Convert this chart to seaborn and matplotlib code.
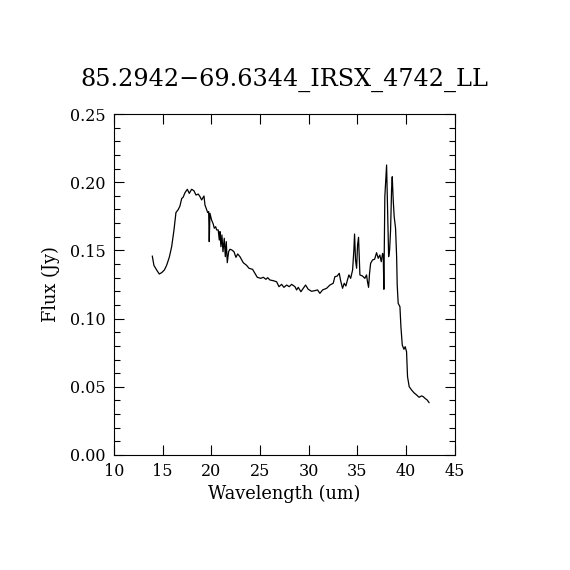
import numpy as np
import pandas as pd
import matplotlib
matplotlib.use("Agg")
import matplotlib.pyplot as plt
from matplotlib.ticker import MultipleLocator
import seaborn as sns

title = "85.2942\u221269.6344_IRSX_4742_LL"
xlabel = "Wavelength (um)"
ylabel = "Flux (Jy)"

wavelength = [13.93, 14.10, 14.38, 14.65, 14.90, 15.17, 15.40, 15.68, 15.92, 16.16,
              16.36, 16.60, 16.77, 16.95, 17.10, 17.29, 17.53, 17.73, 17.97, 18.20,
              18.42, 18.65, 18.83, 19.00, 19.24, 19.34, 19.51, 19.62, 19.72, 19.78,
              19.85, 20.02, 20.19, 20.30, 20.44, 20.54, 20.70, 20.81, 20.88, 20.98,
              21.08, 21.19, 21.32, 21.43, 21.53, 21.63, 21.77, 21.90, 22.10, 22.32,
              22.52, 22.70, 22.93, 23.27, 23.62, 23.86, 24.23, 24.47, 24.71, 25.06,
              25.33, 25.60, 25.78, 26.01, 26.35, 26.70, 26.94, 27.21, 27.45, 27.73,
              27.99, 28.24, 28.58, 28.75, 28.92, 29.19, 29.43, 29.67, 29.94, 30.29,
              30.63, 30.90, 31.14, 31.42, 31.83, 32.17, 32.51, 32.68, 32.92, 33.13,
              33.27, 33.47, 33.64, 33.81, 33.95, 34.12, 34.30, 34.50, 34.63, 34.70,
              34.80, 34.91, 35.01, 35.11, 35.18, 35.25, 35.52, 35.76, 35.93, 36.03,
              36.14, 36.24, 36.35, 36.55, 36.76, 36.96, 37.13, 37.30, 37.44, 37.58,
              37.65, 37.71, 37.81, 37.99, 38.09, 38.20, 38.30, 38.40, 38.50, 38.57,
              38.67, 38.77, 38.91, 39.02, 39.08, 39.18, 39.36, 39.46, 39.60, 39.77,
              39.90, 40.04, 40.14, 40.31, 40.55, 40.79, 41.07, 41.33, 41.58, 41.75,
              41.92, 42.16, 42.36]
flux = [0.1459, 0.1390, 0.1356, 0.1327, 0.1337, 0.1356, 0.1390, 0.1450, 0.1527, 0.1650,
        0.1777, 0.1800, 0.1825, 0.1880, 0.1890, 0.1923, 0.1948, 0.1918, 0.1948, 0.1938,
        0.1906, 0.1913, 0.1894, 0.1870, 0.1899, 0.1833, 0.1800, 0.1777, 0.1784, 0.1564,
        0.1772, 0.1723, 0.1693, 0.1662, 0.1674, 0.1650, 0.1650, 0.1576, 0.1638, 0.1527,
        0.1613, 0.1490, 0.1589, 0.1454, 0.1564, 0.1410, 0.1490, 0.1508, 0.1503, 0.1490,
        0.1449, 0.1474, 0.1454, 0.1410, 0.1390, 0.1369, 0.1361, 0.1332, 0.1303, 0.1295,
        0.1303, 0.1288, 0.1300, 0.1283, 0.1278, 0.1270, 0.1234, 0.1251, 0.1229, 0.1246,
        0.1234, 0.1251, 0.1234, 0.1210, 0.1229, 0.1197, 0.1222, 0.1246, 0.1215, 0.1200,
        0.1205, 0.1210, 0.1185, 0.1210, 0.1222, 0.1246, 0.1259, 0.1307, 0.1312, 0.1332,
        0.1278, 0.1222, 0.1259, 0.1239, 0.1278, 0.1320, 0.1295, 0.1356, 0.1503, 0.1620,
        0.1430, 0.1369, 0.1540, 0.1596, 0.1466, 0.1320, 0.1312, 0.1295, 0.1320, 0.1270,
        0.1229, 0.1332, 0.1405, 0.1430, 0.1435, 0.1483, 0.1442, 0.1466, 0.1417, 0.1478,
        0.1454, 0.1215, 0.1894, 0.2126, 0.1820, 0.1454, 0.1503, 0.1650, 0.1943, 0.2040,
        0.1870, 0.1747, 0.1662, 0.1454, 0.1246, 0.1112, 0.1087, 0.0941, 0.0806, 0.0775,
        0.0794, 0.0757, 0.0574, 0.0501, 0.0477, 0.0457, 0.0440, 0.0423, 0.0433, 0.0428,
        0.0416, 0.0403, 0.0383]

xticks = [10, 15, 20, 25, 30, 35, 40, 45]
yticks = [0.00, 0.05, 0.10, 0.15, 0.20, 0.25]

df = pd.DataFrame({"wavelength": wavelength, "flux": flux})

sns.set_theme(style="ticks")
plt.rcParams["font.family"] = ["DejaVu Serif"]

fig = plt.figure(figsize=(5.7, 5.7), dpi=100)
ax = fig.add_axes([0.2, 0.2018, 0.598, 0.5982])
sns.lineplot(data=df, x="wavelength", y="flux", sort=False, estimator=None,
             color="black", linewidth=0.9, ax=ax)

ax.set_xlim(10, 45)
ax.set_ylim(0, 0.25)
ax.set_xticks(xticks)
ax.set_xticklabels([str(t) for t in xticks])
ax.set_yticks(yticks)
ax.set_yticklabels([f"{t:.2f}" for t in yticks])
ax.yaxis.set_minor_locator(MultipleLocator(0.01))
ax.tick_params(which="both", direction="in", top=True, right=True, color="black",
               width=0.8, labelsize=11.5, labelcolor="black")
ax.tick_params(which="major", length=7, pad=6)
ax.tick_params(which="minor", length=4)
for s in ax.spines.values():
    s.set_color("black")
    s.set_linewidth(0.8)
ax.set_xlabel(xlabel, fontsize=12.8, color="black", labelpad=3)
ax.set_ylabel(ylabel, fontsize=12.8, color="black", labelpad=7)
ax.set_title(title, fontsize=17.2, color="black", pad=20)

fig.savefig("out.png", dpi=100)
